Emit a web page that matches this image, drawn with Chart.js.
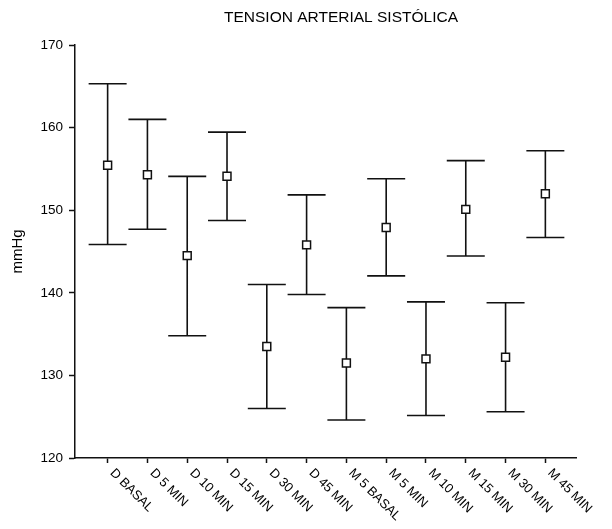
<!DOCTYPE html>
<html>
<head>
<meta charset="utf-8">
<script src="https://cdn.jsdelivr.net/npm/chart.js@4"></script>
<style>
html,body{margin:0;padding:0;background:#fff;}
#wrap{width:612px;height:529px;}
</style>
</head>
<body>
<div id="wrap"><canvas id="c" width="612" height="529"></canvas></div>
<script>
const chartTitle = "TENSION ARTERIAL SISTÓLICA";
const yTitle = "mmHg";
const categories = ["D BASAL","D 5 MIN","D 10 MIN","D 15 MIN","D 30 MIN","D 45 MIN","M 5 BASAL","M 5 MIN","M 10 MIN","M 15 MIN","M 30 MIN","M 45 MIN"];
const means = [155.45, 154.3, 144.5, 154.1, 133.5, 145.8, 131.5, 147.9, 132.0, 150.1, 132.2, 152.0];
const upper = [165.3, 161.0, 154.1, 159.45, 141.0, 151.85, 138.2, 153.8, 138.9, 156.0, 138.8, 157.2];
const lower = [145.85, 147.7, 134.8, 148.75, 126.0, 139.8, 124.6, 142.05, 125.15, 144.45, 125.6, 146.7];
const yTicks = [120, 130, 140, 150, 160, 170];

const INK = '#111';
const FONT = "'Liberation Sans', Arial, sans-serif";

const markerPts = means.map((v, i) => ({x: i, y: v}));
const capPts = [];
upper.forEach((v, i) => capPts.push({x: i, y: v}));
lower.forEach((v, i) => capPts.push({x: i, y: v}));
const whiskerPts = [];
categories.forEach((c, i) => {
  whiskerPts.push({x: i, y: lower[i]});
  whiskerPts.push({x: i, y: upper[i]});
  whiskerPts.push({x: i, y: null});
});

const customDraw = {
  id: 'customDraw',
  afterDraw(chart) {
    const ctx = chart.ctx;
    const xs = chart.scales.x;
    const ys = chart.scales.y;
    ctx.save();
    ctx.fillStyle = '#000';
    // title
    ctx.font = "15.5px " + FONT;
    ctx.textAlign = 'center';
    ctx.textBaseline = 'middle';
    ctx.fillText(chartTitle, 341, 18);
    // rotated category labels
    ctx.font = "13px " + FONT;
    categories.forEach((lab, i) => {
      const px = xs.getPixelForValue(i);
      ctx.save();
      ctx.translate(px + 4.5, ys.bottom + 13);
      ctx.rotate(Math.PI / 4);
      ctx.textAlign = 'left';
      ctx.textBaseline = 'middle';
      ctx.fillText(lab, 0, 0);
      ctx.restore();
    });
    ctx.restore();
  }
};

new Chart(document.getElementById('c'), {
  type: 'scatter',
  data: {
    datasets: [
      {
        label: 'mean',
        data: markerPts,
        pointStyle: 'rect',
        pointRadius: 5.6,
        pointHoverRadius: 5.6,
        pointBorderWidth: 1.5,
        pointBorderColor: INK,
        pointBackgroundColor: '#fff',
        showLine: false
      },
      {
        label: 'caps',
        data: capPts,
        pointStyle: 'line',
        pointRadius: 19,
        pointHoverRadius: 19,
        pointBorderWidth: 1.6,
        pointBorderColor: INK,
        showLine: false
      },
      {
        label: 'whiskers',
        data: whiskerPts,
        showLine: true,
        spanGaps: false,
        borderColor: INK,
        borderWidth: 1.6,
        pointRadius: 0,
        pointHoverRadius: 0
      }
    ]
  },
  options: {
    responsive: false,
    animation: false,
    devicePixelRatio: 1,
    layout: { padding: { left: 0, right: 36, top: 45, bottom: 0 } },
    plugins: {
      legend: { display: false },
      tooltip: { enabled: false },
      title: { display: false }
    },
    scales: {
      x: {
        type: 'linear',
        min: -0.82,
        max: 11.77,
        afterBuildTicks(scale) {
          scale.ticks = categories.map((c, i) => ({value: i}));
        },
        afterFit(scale) { scale.height = 71; },
        ticks: { display: false },
        grid: {
          drawOnChartArea: false,
          drawTicks: true,
          tickLength: 5,
          tickColor: INK,
          tickWidth: 1.5
        },
        border: { display: true, color: INK, width: 1.5 }
      },
      y: {
        type: 'linear',
        min: 120,
        max: 170,
        afterBuildTicks(scale) {
          scale.ticks = yTicks.map(v => ({value: v}));
        },
        afterFit(scale) { scale.width = 75; },
        ticks: {
          color: '#000',
          font: { family: FONT, size: 13.5 },
          padding: 6
        },
        grid: {
          drawOnChartArea: false,
          drawTicks: true,
          tickLength: 6,
          tickColor: INK,
          tickWidth: 1.5
        },
        border: { display: true, color: INK, width: 1.5 },
        title: {
          display: true,
          text: yTitle,
          color: '#000',
          font: { family: FONT, size: 15 },
          padding: { top: 8.5, bottom: 0 }
        }
      }
    }
  },
  plugins: [customDraw]
});
</script>
</body>
</html>
